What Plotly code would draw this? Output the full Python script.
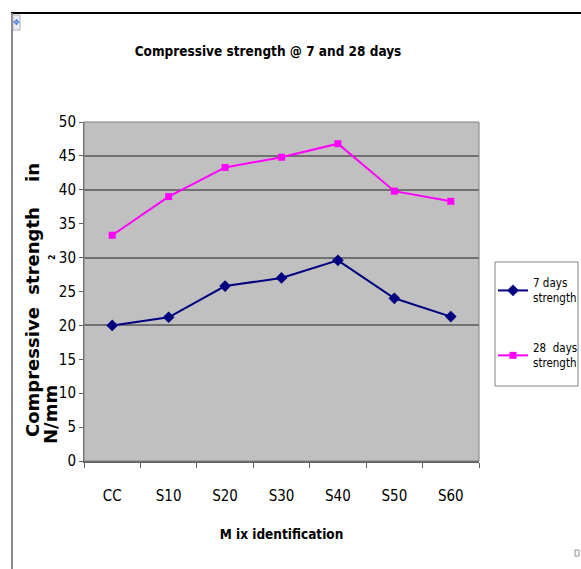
import plotly.graph_objects as go

# Mix identifiers and compressive strengths (N/mm²)
mixes = ["CC", "S10", "S20", "S30", "S40", "S50", "S60"]
strength_7d = [20.0, 21.2, 25.8, 27.0, 29.6, 24.0, 21.3]
strength_28d = [33.3, 39.0, 43.3, 44.8, 46.8, 39.8, 38.3]
y_ticks = list(range(0, 55, 5))
grid_levels = [20, 30, 40, 45]

W, H = 581, 569
L, R, T, B = 84, 479, 122, 461  # plot area in pixels


def px(x):
    return (x - L) / (R - L)


def py(y):
    return (B - y) / (B - T)


NARROW = "DejaVu Sans Condensed, sans-serif"

fig = go.Figure()
fig.add_trace(go.Scatter(
    x=mixes, y=strength_7d, name="7 days<br>strength", legendgroup="d7",
    mode="lines+markers",
    line=dict(color="#000080", width=2),
    marker=dict(symbol="diamond", size=9, color="#000080"),
))
fig.add_trace(go.Scatter(
    x=mixes, y=strength_28d, name="28  days<br>strength", legendgroup="d28",
    mode="lines+markers",
    line=dict(color="#ff00ff", width=2),
    marker=dict(symbol="square", size=7, color="#ff00ff"),
))
# invisible trace on the overlay axis that carries the major gridlines
fig.add_trace(go.Scatter(x=mixes, y=[None] * len(mixes), yaxis="y2",
                         showlegend=False, hoverinfo="skip"))

fig.update_layout(
    width=W, height=H,
    margin=dict(l=L, r=W - R, t=T, b=H - B, autoexpand=False),
    paper_bgcolor="white",
    plot_bgcolor="#c0c0c0",
    showlegend=True,
    title=dict(text="<b>Compressive strength @ 7 and 28 days</b>",
               x=px(268), xref="paper", xanchor="center",
               y=1 - 51 / H, yanchor="middle",
               font=dict(family=NARROW, size=13.5, color="black")),
    xaxis=dict(
        type="category", categoryorder="array", categoryarray=mixes,
        range=[-0.5, len(mixes) - 0.5],
        tickson="boundaries", ticks="outside", ticklen=5, tickcolor="#606060",
        showline=True, linecolor="#606060", linewidth=2, mirror=False,
        showgrid=False, ticklabelstandoff=20,
        tickfont=dict(family=NARROW, size=15, color="black"),
        title=dict(text="<b>M ix identification</b>", standoff=26,
                   font=dict(family=NARROW, size=13.5, color="black")),
    ),
    yaxis=dict(
        range=[0, 50], tickvals=y_ticks, ticks="outside", ticklen=4,
        tickcolor="#606060", showline=True, linecolor="#606060", linewidth=1,
        showgrid=False, zeroline=False,
        tickfont=dict(family=NARROW, size=15, color="black"),
    ),
    yaxis2=dict(
        range=[0, 50], overlaying="y", tickvals=grid_levels,
        showticklabels=False, ticks="", showgrid=True,
        gridcolor="#707070", gridwidth=2, zeroline=False,
    ),
    legend=dict(
        x=px(493), y=py(269), xanchor="left", yanchor="top",
        bgcolor="rgba(0,0,0,0)", borderwidth=0,
        font=dict(family=NARROW, size=11.5, color="black"),
        tracegroupgap=32, itemwidth=30,
    ),
)

# legend frame
fig.add_shape(type="rect", xref="paper", yref="paper",
              x0=px(495), x1=px(578), y0=py(262), y1=py(386),
              line=dict(color="#808080", width=1), fillcolor="white",
              layer="below")

# plot-area frame (right and top edges)
fig.add_shape(type="rect", xref="paper", yref="paper", x0=0, x1=1, y0=0, y1=1,
              line=dict(color="#808080", width=1), layer="above")

# outer frame: black top rule and grey left rule
fig.add_shape(type="line", xref="paper", yref="paper",
              x0=px(11), x1=px(581), y0=py(13), y1=py(13),
              line=dict(color="black", width=2))
fig.add_shape(type="line", xref="paper", yref="paper",
              x0=px(12), x1=px(12), y0=py(13), y1=py(569),
              line=dict(color="#888888", width=2))
# move handle in the corner
fig.add_shape(type="rect", xref="paper", yref="paper",
              x0=px(13), x1=px(20), y0=py(15), y1=py(30),
              line=dict(color="#b0b0b0", width=1), fillcolor="#e8eef8")
fig.add_annotation(x=px(16.5), y=py(22.5), xref="paper", yref="paper",
                   xanchor="center", yanchor="middle",
                   text="✥", showarrow=False,
                   font=dict(family="DejaVu Sans", size=8, color="#3a6fd8"))
# resize handle at lower right
fig.add_shape(type="rect", xref="paper", yref="paper",
              x0=px(575), x1=px(579), y0=py(550), y1=py(556),
              line=dict(color="#909090", width=1), fillcolor="white")

# y-axis title in two rotated lines plus the squared unit
YFONT = "DejaVu Sans, Verdana, sans-serif"
fig.add_annotation(x=px(32), y=py(300), xref="paper", yref="paper",
                   xanchor="center", yanchor="middle",
                   text="<b>Compressive  strength    in</b>", textangle=-90,
                   showarrow=False,
                   font=dict(family=YFONT, size=18, color="black"))
fig.add_annotation(x=px(50), y=py(415), xref="paper", yref="paper",
                   xanchor="center", yanchor="middle",
                   text="<b>N/mm</b>", textangle=-90, showarrow=False,
                   font=dict(family=YFONT, size=18, color="black"))
fig.add_annotation(x=px(52), y=py(257), xref="paper", yref="paper",
                   xanchor="center", yanchor="middle",
                   text="<b>2</b>", textangle=-90, showarrow=False,
                   font=dict(family=YFONT, size=8, color="black"))

fig.write_html("out.html")
